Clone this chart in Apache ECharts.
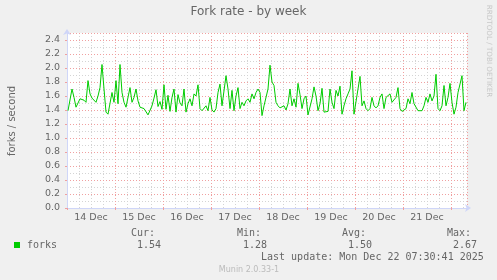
<!DOCTYPE html>
<html><head><meta charset="utf-8">
<script src="https://cdn.jsdelivr.net/npm/echarts@6/dist/echarts.min.js"></script>
<style>html,body{margin:0;padding:0;background:#F0F0F0;}#c{width:497px;height:280px;}</style>
</head><body><div id="c"></div>
<script>
// hourly fork rate, hours since 14 Dec 00:00
const forks = [
1.39,1.41,1.70,1.58,1.44,1.46,1.56,1.57,1.54,1.51,1.82,1.63,1.57,1.56,1.51,1.60,1.72,2.05,1.70,1.37,
1.34,1.36,1.65,1.51,1.82,1.49,2.05,1.65,1.51,1.44,1.46,1.72,1.51,1.58,1.70,1.53,1.44,1.43,1.42,1.44,
1.33,1.35,1.46,1.57,1.69,1.45,1.52,1.41,1.76,1.41,1.61,1.38,1.58,1.70,1.37,1.62,1.50,1.46,1.70,1.37,
1.49,1.56,1.46,1.63,1.60,1.76,1.42,1.39,1.38,1.46,1.39,1.58,1.40,1.37,1.42,1.65,1.77,1.46,1.46,1.89,
1.70,1.42,1.68,1.39,1.60,1.72,1.42,1.51,1.46,1.53,1.56,1.51,1.63,1.56,1.65,1.70,1.65,1.32,1.46,1.44,
1.70,2.04,1.80,1.75,1.51,1.46,1.43,1.42,1.46,1.40,1.49,1.70,1.46,1.56,1.44,1.78,1.62,1.42,1.56,1.60,
1.33,1.34,1.56,1.73,1.60,1.39,1.49,1.71,1.37,1.37,1.38,1.70,1.51,1.42,1.68,1.60,1.74,1.34,1.46,1.56,
1.63,1.70,1.96,1.34,1.33,1.70,1.88,1.46,1.53,1.42,1.39,1.42,1.58,1.46,1.43,1.46,1.58,1.63,1.42,1.58,
1.58,1.63,1.51,1.51,1.58,1.72,1.42,1.38,1.39,1.42,1.56,1.49,1.65,1.49,1.51,1.39,1.38,1.39,1.46,1.58,
1.51,1.63,1.53,1.60,1.91,1.42,1.39,1.46,1.75,1.46,1.58,1.78,1.51,1.34,1.44,1.65,1.63,1.89,1.39,1.51
];
const dayLabels = ['14 Dec','15 Dec','16 Dec','17 Dec','18 Dec','19 Dec','20 Dec','21 Dec'];
const statNames = ['Cur:','Min:','Avg:','Max:'];
const statValues = ['1.54','1.28','1.50','2.67'];
const seriesName = 'forks';
const lastUpdate = 'Last update: Mon Dec 22 07:30:41 2025';

const FONT = '"DejaVu Sans", sans-serif';
const MONO = '"DejaVu Sans Mono", monospace';
const TXT = '#666666';
const AXIS = '#CFD6F8';
const MGRID = '#F0A0A0';
const GRID = '#D4D4D4';

const labelPos = dayLabels.map((d, i) => 12 + 24 * i);
const chart = echarts.init(document.getElementById('c'), null, {renderer: 'canvas'});

const statX = [131, 237, 342, 447];
const graphics = [
  {type:'text', left:'center', top:6, style:{text:'Fork rate - by week', font:'12px ' + FONT, fill:TXT}},
  {type:'text', x:12, y:121, rotation:Math.PI/2, style:{text:'forks / second', font:'10px ' + FONT, fill:TXT, align:'center', verticalAlign:'middle'}},
  {type:'text', x:489, y:51, rotation:-Math.PI/2, style:{text:'RRDTOOL / TOBI OETIKER', font:'7.2px ' + FONT, fill:'#C8C8C8', align:'center', verticalAlign:'middle'}},
  {type:'rect', shape:{x:14, y:242, width:6, height:6}, style:{fill:'#00CC00'}},
  {type:'text', x:27, y:245.5, style:{text:seriesName, font:'10px ' + MONO, fill:TXT, verticalAlign:'middle'}},
  {type:'text', x:261, y:257.5, style:{text:lastUpdate, font:'10px ' + MONO, fill:TXT, verticalAlign:'middle'}},
  {type:'text', x:249, y:269.5, style:{text:'Munin 2.0.33-1', font:'8px ' + FONT, fill:'#BBBBBB', align:'center', verticalAlign:'middle'}}
];
statNames.forEach((n, i) => {
  graphics.push({type:'text', x:statX[i], y:233.5, style:{text:n, font:'10px ' + MONO, fill:TXT, verticalAlign:'middle'}});
  graphics.push({type:'text', x:statX[i] + 6, y:245.5, style:{text:statValues[i], font:'10px ' + MONO, fill:TXT, verticalAlign:'middle'}});
});

chart.setOption({
  animation: false,
  backgroundColor: '#F0F0F0',
  grid: {left:67, top:33, width:400, height:175, show:true, backgroundColor:'#FFFFFF', borderWidth:0},
  xAxis: [
    {type:'value', min:0, max:200, interval:24, position:'bottom', z:3,
     axisLine:{show:true, lineStyle:{color:AXIS, width:1}, symbol:['none','arrow'], symbolSize:[6,6], symbolOffset:[0,4]},
     axisTick:{show:true, length:2, lineStyle:{color:MGRID}},
     axisLabel:{customValues:labelPos, margin:5, color:TXT, fontFamily:FONT, fontSize:9.5,
       formatter: v => dayLabels[Math.round((v - 12) / 24)] || ''},
     splitLine:{show:true, lineStyle:{color:MGRID, type:[1,2], width:1}}},
    {type:'value', min:0, max:200, interval:6, position:'bottom', z:1,
     axisLine:{show:false}, axisTick:{show:false}, axisLabel:{show:false},
     splitLine:{show:true, lineStyle:{color:GRID, type:[1,2], width:1}}}
  ],
  yAxis: [
    {type:'value', min:0, max:2.5, interval:0.2, position:'left', z:3,
     axisLine:{show:true, lineStyle:{color:AXIS, width:1}, symbol:['none','arrow'], symbolSize:[6,6], symbolOffset:[0,4]},
     axisTick:{show:true, length:2, lineStyle:{color:MGRID}},
     axisLabel:{showMaxLabel:false, margin:7, color:TXT, fontFamily:FONT, fontSize:9.5, formatter: v => v.toFixed(1)},
     splitLine:{show:true, lineStyle:{color:MGRID, type:[1,2], width:1}}},
    {type:'value', min:0, max:2.5, interval:0.1, position:'left', z:1,
     axisLine:{show:false}, axisTick:{show:false}, axisLabel:{show:false},
     splitLine:{show:true, lineStyle:{color:GRID, type:[1,2], width:1}}}
  ],
  series: [{
    type:'line', name:seriesName, xAxisIndex:0, yAxisIndex:0, z:5,
    data: forks.map((v, i) => [i + 0.5, v]),
    showSymbol:false, symbol:'none',
    lineStyle:{color:'#00CC00', width:1}
  }],
  graphic: graphics
});
</script></body></html>
